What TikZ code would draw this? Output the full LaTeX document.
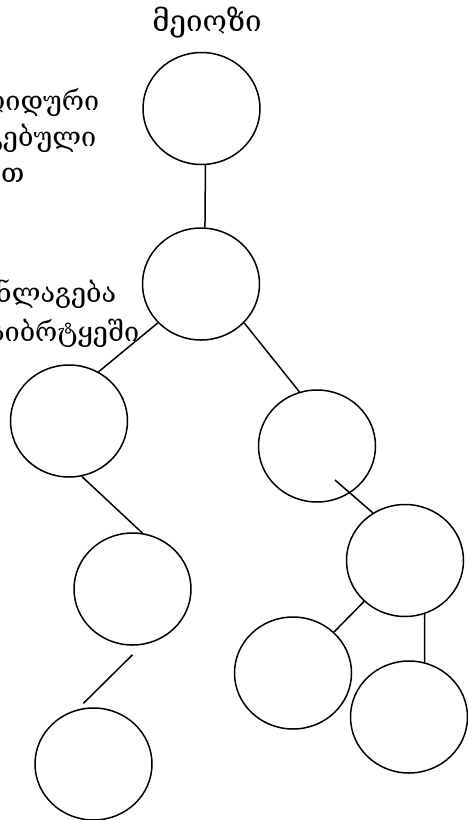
\documentclass[tikz,border=0pt]{standalone}
\usepackage{fontspec}
\setmainfont{DejaVu Serif}
\usetikzlibrary{shapes.geometric}

\tikzset{
  cell/.style={draw, ellipse, minimum width=117pt, minimum height=112pt, inner sep=0pt},
  lbl/.style={anchor=base east, inner sep=0pt, font=\fontsize{27}{32}\selectfont}
}

\begin{document}
\begin{tikzpicture}[x=1pt, y=-1pt, line width=1.5pt, font=\fontsize{29.5}{34}\selectfont]
    \useasboundingbox (0,0) rectangle (468,820);

    % the cells
    \node[cell] (top) at (201.5,108.5) {};
    \node[cell] (mid) at (201,284) {};
    \node[cell] (l1) at (69,421) {};
    \node[cell] (l2) at (132.5,589) {};
    \node[cell] (l3) at (93.5,764) {};
    \node[cell] (r1) at (317,446) {};
    \node[cell] (r2) at (405,560.5) {};
    \node[cell] (r3) at (293,673) {};
    \node[cell] (r4) at (409,717) {};

    \node[anchor=base] (title) at (207,31) {მეიოზი};

    % side notes, running off the left edge
    \node[lbl] (n1) at (100,110) {დიპლოიდური};
    \node[lbl] (n2) at (97,146) {გაორმაგებული};
    \node[lbl] (n3) at (25,182) {ქრომოსომებით};
    \node[lbl] (n4) at (117,302) {განლაგება};
    \node[lbl] (n5) at (140,341) {სიბრტყეში};

    % links
    \draw (top.-86) -- (mid.86);
    \draw (mid.222) -- (l1.59);
    \draw (mid.318) -- (r1.108);
    \draw (l1.283) -- (l2.80);
    \draw ([yshift=-9pt]l2.south) -- ([xshift=-10pt,yshift=4pt]l3.north);
    \draw (r2.124) -- ([shift={(18,34)}]r1.center);
    \draw (r2.225) -- (r3.45);
    \draw (r2.-70) -- (r4.74);
\end{tikzpicture}
\end{document}
